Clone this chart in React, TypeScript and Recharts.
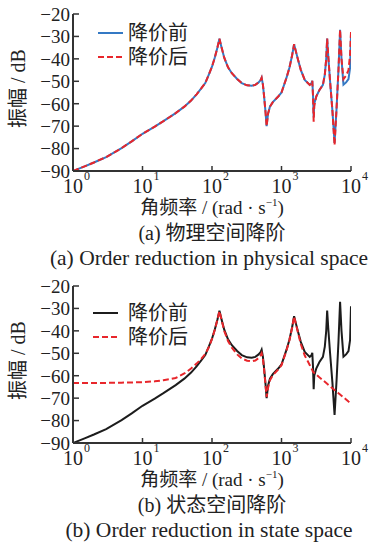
import { LineChart, Line, XAxis, YAxis, Legend } from 'recharts';

// angular frequency samples (rad/s)
const omega = [
  1, 1.5, 2, 3, 5, 7, 10, 15, 20, 30, 40, 50, 60, 70, 80, 90, 100, 110, 120, 128,
  135, 150, 170, 193, 230, 268, 320, 373, 420, 464, 500, 518, 540, 561, 590, 611, 640, 682, 750, 897,
  1000, 1178, 1300, 1420, 1518, 1620, 1733, 1900, 2160, 2547, 2700, 2775, 2840, 2903, 2960, 3162, 3500, 3944,
  4200, 4400, 4540, 4700, 5000, 5400, 5800, 6200, 6600, 6965, 7300, 7790, 8500, 9200, 9700, 10000,
];

// 降价前 (full model), dB
const beforeReduction = [
  -90, -87.8, -86.2, -83.8, -79.8, -76.8, -73.4, -70.2, -67.8, -64.2, -61.3, -58.6, -55.8, -53.2, -50.8, -47, -43.5, -39.3, -34.8, -31,
  -34, -39.5, -43.8, -46.4, -49, -50.8, -51.8, -52, -51.6, -50.6, -49.5, -48.4, -51.5, -56.5, -64, -70, -64.5, -61.3, -59.3, -56.8,
  -55, -48.5, -44, -38.5, -33.5, -37, -40.5, -45, -49.4, -51.6, -50.8, -49.8, -56, -66, -60, -56.8, -54, -51.6,
  -47, -40, -31, -38.5, -50, -63, -77.5, -62, -45, -27, -40, -51.5, -50.5, -49, -44, -29,
];

// 降价后, physical-space reduction, dB
const afterPhysical = [
  -90, -87.8, -86.2, -83.8, -79.8, -76.8, -73.4, -70.2, -67.8, -64.2, -61.3, -58.6, -55.8, -53.2, -50.8, -47, -43.5, -39.3, -34.8, -31,
  -34, -39.5, -43.8, -46.4, -49, -50.8, -51.8, -52, -51.6, -50.6, -49.5, -48.4, -51.5, -56.5, -64, -70, -64.5, -61.3, -59.3, -56.8,
  -55, -48.5, -44, -38.5, -33.5, -37, -40.5, -45, -49.4, -51.6, -50.8, -49.8, -56.5, -68, -61, -56.8, -54, -51.6,
  -47, -40, -31, -38.5, -50, -63, -78.5, -62, -45, -27, -40, -49, -47.5, -45, -38, -28,
];

// 降价后, state-space reduction, dB
const afterState = [
  -63.3, -63.3, -63.3, -63.2, -63.1, -63, -62.9, -62.5, -62, -61, -59, -56.8, -54.6, -52.5, -50.3, -47.3, -43.6, -39.4, -34.8, -31.2,
  -34.2, -40, -44.5, -47.5, -50.5, -52.3, -53.3, -53.6, -53.2, -52.2, -51, -50, -52.5, -57, -64.5, -69.5, -65.5, -62, -59.8, -57.2,
  -55.3, -48.8, -44.2, -38.7, -33.6, -37.2, -41, -46, -51, -55.2, -56.8, -57.5, -58.3, -58.5, -58.8, -59.5, -60.7, -62,
  -62.7, -63.2, -63.6, -64, -64.7, -65.6, -66.4, -67.1, -67.8, -68.4, -68.9, -69.6, -70.6, -71.5, -72, -72.5,
];

const xTicks = [1, 10, 100, 1000, 10000];
const yTicks = [-90, -80, -70, -60, -50, -40, -30, -20];
const seriesNames = ['降价前', '降价后'];

const serif = "'Liberation Serif', 'Times New Roman', serif";
const mixed = "'Liberation Serif', 'Noto Sans CJK SC', serif";
const ink = '#222';
const frame = { stroke: '#333', strokeWidth: 2 };

const physicalData = omega.map((w, i) => ({ w, before: beforeReduction[i], after: afterPhysical[i] }));
const stateData = omega.map((w, i) => ({ w, before: beforeReduction[i], after: afterState[i] }));

function XTick(props: any) {
  const { x, y, payload } = props;
  const exp = String(Math.round(Math.log10(payload.value)));
  return (
    <g>
      <line x1={x} y1={y} x2={x} y2={y - 5} stroke="#333" strokeWidth={1.5} />
      <text x={x} y={y + 22} textAnchor="middle" fontSize={20} fontFamily={serif} fill={ink}>10</text>
      <text x={x + 11} y={y + 9} fontSize={12} fontFamily={serif} fill={ink}>{exp}</text>
    </g>
  );
}

function YTick(props: any) {
  const { x, y, payload } = props;
  const v = payload.value;
  return (
    <g>
      <line x1={x} y1={y} x2={x + 6} y2={y} stroke="#333" strokeWidth={1.5} />
      <text x={x - 3} y={y} dy="0.36em" textAnchor="end" fontSize={19} fontFamily={serif} fill={ink}>
        {v < 0 ? '\u2212' + Math.abs(v) : String(v)}
      </text>
    </g>
  );
}

function YLabel(props: any) {
  const vb = props.viewBox || { x: 0, y: 14, width: 73, height: 157 };
  const cx = vb.x + 18;
  const cy = vb.y + vb.height / 2 - 4;
  return (
    <text x={cx} y={cy} transform={`rotate(-90, ${cx}, ${cy})`} textAnchor="middle" dominantBaseline="central"
      fontSize={20} fontFamily={mixed} fill={ink}>
      振幅 / dB
    </text>
  );
}

function XCaption(props: any) {
  const { viewBox, tag, zh, en } = props;
  const vb = viewBox || { x: 73, y: 171, width: 278, height: 106 };
  const cx = vb.x + vb.width / 2;
  return (
    <g fill={ink}>
      <text x={cx} y={vb.y + 43} textAnchor="middle" fontSize={19} fontFamily={mixed}>
        <tspan>角频率 / (rad · s</tspan>
        <tspan fontSize={11} dy={-8}>−1</tspan>
        <tspan dy={8}>)</tspan>
      </text>
      <text x={cx} y={vb.y + 69} textAnchor="middle" fontSize={20} fontFamily={mixed}>
        {`(${tag})  ${zh}`}
      </text>
      <text x={cx - 3} y={vb.y + 94} textAnchor="middle" fontSize={21.5} fontFamily={serif}>
        {`(${tag})  ${en}`}
      </text>
    </g>
  );
}

function LegendBox({ beforeColor, afterColor, sampleLeft }: { beforeColor: string; afterColor: string; sampleLeft: number }) {
  return (
    <svg width={120} height={50} style={{ display: 'block', overflow: 'visible' }}>
      <line x1={sampleLeft} y1={12} x2={sampleLeft + 25} y2={12} stroke={beforeColor} strokeWidth={2} />
      <text x={35} y={12} dy="0.36em" fontSize={20} fontFamily={mixed} fill={ink}>{seriesNames[0]}</text>
      <line x1={sampleLeft} y1={36} x2={sampleLeft + 25} y2={36} stroke={afterColor} strokeWidth={2} strokeDasharray="6 3" />
      <text x={35} y={36} dy="0.36em" fontSize={20} fontFamily={mixed} fill={ink}>{seriesNames[1]}</text>
    </svg>
  );
}

function Panel(props: {
  data: { w: number; before: number; after: number }[];
  beforeColor: string;
  afterColor: string;
  tag: string;
  zh: string;
  en: string;
  legendTop: number;
  sampleLeft: number;
}) {
  const { data, beforeColor, afterColor, tag, zh, en, legendTop, sampleLeft } = props;
  return (
    <LineChart width={373} height={277} data={data} margin={{ top: 14, right: 22, bottom: 0, left: 0 }}>
      <XAxis dataKey="w" type="number" scale="log" domain={[1, 10000]} ticks={xTicks} interval={0} allowDataOverflow
        axisLine={frame} tickLine={false} tickSize={0} tickMargin={0} height={106} tick={<XTick />}
        label={<XCaption tag={tag} zh={zh} en={en} />} />
      <XAxis xAxisId="top" orientation="top" dataKey="w" type="number" scale="log" domain={[1, 10000]} allowDataOverflow
        axisLine={frame} tick={false} tickLine={false} height={0} />
      <YAxis type="number" domain={[-90, -20]} ticks={yTicks} interval={0} allowDataOverflow width={73}
        axisLine={frame} tickLine={false} tickSize={0} tickMargin={0} tick={<YTick />} label={<YLabel />} />
      <YAxis yAxisId="right" orientation="right" type="number" domain={[-90, -20]} allowDataOverflow
        axisLine={frame} tick={false} tickLine={false} width={0} />
      <Line type="linear" dataKey="before" name={seriesNames[0]} stroke={beforeColor} strokeWidth={2} dot={false} isAnimationActive={false} />
      <Line type="linear" dataKey="after" name={seriesNames[1]} stroke={afterColor} strokeWidth={2} strokeDasharray="6 3" dot={false} isAnimationActive={false} />
      <Legend layout="vertical" align="center" verticalAlign="middle"
        wrapperStyle={{ left: 93, top: legendTop, width: 120, height: 50 }}
        content={() => <LegendBox beforeColor={beforeColor} afterColor={afterColor} sampleLeft={sampleLeft} />} />
    </LineChart>
  );
}

export default function App() {
  return (
    <div style={{ position: 'relative', width: 373, height: 549, background: '#fff', overflow: 'hidden' }}>
      <style>{'body{margin:0}'}</style>
      <div style={{ position: 'absolute', left: 0, top: 0 }}>
        <Panel data={physicalData} beforeColor="#3479c4" afterColor="#e8262b" tag="a" zh="物理空间降阶"
          en="Order reduction in physical space" legendTop={21} sampleLeft={5} />
      </div>
      <div style={{ position: 'absolute', left: 0, top: 272 }}>
        <Panel data={stateData} beforeColor="#1c1c1c" afterColor="#e8262b" tag="b" zh="状态空间降阶"
          en="Order reduction in state space" legendTop={29} sampleLeft={0} />
      </div>
    </div>
  );
}
